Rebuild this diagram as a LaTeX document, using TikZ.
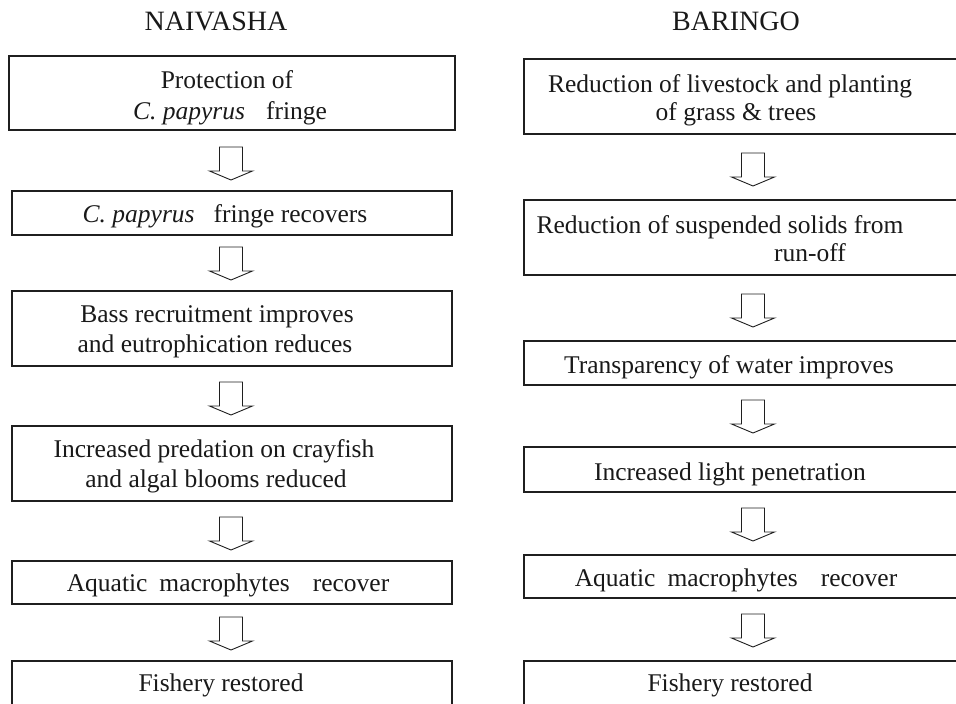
\documentclass[tikz,border=0pt]{standalone}
\usepackage{fontspec}
\setmainfont{Liberation Serif}
\usetikzlibrary{calc}
\tikzset{
  box/.style={draw=black!88, line width=2pt, inner sep=0pt},
  txt/.style={font=\fontsize{25.5}{31}\selectfont, inner sep=0pt, anchor=base, text=black!90},
  head/.style={font=\fontsize{28}{34}\selectfont, inner sep=0pt, anchor=base, text=black!90},
  blockarrow/.style={draw=black!88, line width=0.9pt, fill=white, line join=miter},
}
% #1 upper box, #2 lower box, #3 x offset, #4 gap above lower box
\newcommand\flowarrow[4]{%
  \coordinate (tip) at ($(#1.center |- #2.north)+(#3,-#4)$);
  \draw[blockarrow] (tip) -- ++(-21.5,-9) -- ++(10,0) -- ++(0,-24) -- ++(23,0)
    -- ++(0,24) -- ++(10,0) -- cycle;
}
\begin{document}
\begin{tikzpicture}[x=1pt, y=-1pt]
\useasboundingbox (0,0) rectangle (956,704);
\clip (0,0) rectangle (956,704);

% headings
\node[head] (hn) at (216,30) {NAIVASHA};
\node[head] (hb) at (736,30) {BARINGO};

% left column boxes
\node[box, minimum width=446, minimum height=74] (L1) at (232,93) {};
\node[box, minimum width=440, minimum height=44] (L2) at (232,213) {};
\node[box, minimum width=440, minimum height=75] (L3) at (232,328.5) {};
\node[box, minimum width=440, minimum height=75] (L4) at (232,463.5) {};
\node[box, minimum width=440, minimum height=43] (L5) at (232,582.5) {};
\node[box, minimum width=440, minimum height=60] (L6) at (232,691) {};

% right column boxes
\node[box, minimum width=458, minimum height=75] (R1) at (753,96.5) {};
\node[box, minimum width=458, minimum height=75] (R2) at (753,237.5) {};
\node[box, minimum width=458, minimum height=44] (R3) at (753,363) {};
\node[box, minimum width=458, minimum height=45] (R4) at (753,469.5) {};
\node[box, minimum width=458, minimum height=43] (R5) at (753,576.5) {};
\node[box, minimum width=458, minimum height=60] (R6) at (753,691) {};

% left texts
\node[txt] (t1a) at (227,88) {Protection of};
\node[txt] (t1b) at (230,119) {\textit{C. papyrus}\hspace{21pt}fringe};
\node[txt] (t2) at (225,222) {\textit{C. papyrus}\hspace{19pt}fringe recovers};
\node[txt] (t3a) at (217,322) {Bass recruitment improves};
\node[txt] (t3b) at (215,352) {and eutrophication reduces};
\node[txt] (t4a) at (214,457) {Increased predation on crayfish};
\node[txt] (t4b) at (216,487) {and algal blooms reduced};
\node[txt] (t5) at (228,591) {Aquatic\hspace{12pt}macrophytes\hspace{23pt}recover};
\node[txt] (t6) at (221,691) {Fishery restored};

% right texts
\node[txt] (u1a) at (730,92) {Reduction of livestock and planting};
\node[txt] (u1b) at (736,120) {of grass \& trees};
\node[txt] (u2a) at (720,233) {Reduction of suspended solids from};
\node[txt] (u2b) at (810,261) {run-off};
\node[txt] (u3) at (729,373) {Transparency of water improves};
\node[txt] (u4) at (730,480) {Increased light penetration};
\node[txt] (u5) at (736,586) {Aquatic\hspace{12pt}macrophytes\hspace{23pt}recover};
\node[txt] (u6) at (730,691) {Fishery restored};

% arrows
\flowarrow{L1}{L2}{-1}{10}
\flowarrow{L2}{L3}{-1}{10}
\flowarrow{L3}{L4}{-1}{10}
\flowarrow{L4}{L5}{-1}{10}
\flowarrow{L5}{L6}{-1}{10}
\flowarrow{R1}{R2}{0}{13}
\flowarrow{R2}{R3}{0}{13}
\flowarrow{R3}{R4}{0}{13}
\flowarrow{R4}{R5}{0}{13}
\flowarrow{R5}{R6}{0}{13}
\end{tikzpicture}
\end{document}
